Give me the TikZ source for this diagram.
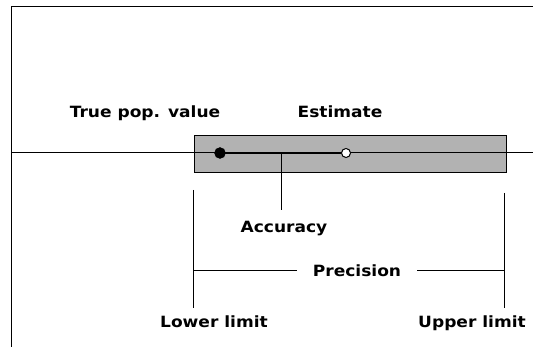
\documentclass[tikz,border=0pt]{standalone}
\usepackage{fontspec}
\setmainfont{DejaVu Sans}[FakeStretch=1.1]
\begin{document}
\begin{tikzpicture}[x=1pt,y=-1pt,
  lbl/.style={font=\bfseries\fontsize{15.5}{17}\selectfont, inner sep=0pt, anchor=base},
  thin/.style={line width=1pt, black},
  band/.style={draw=black, line width=1pt, fill=black!30},
  dotb/.style={circle, fill=black, draw=black, inner sep=0pt, minimum size=11pt},
  dotw/.style={circle, fill=white, draw=black, line width=1pt, inner sep=0pt, minimum size=9pt}]
\useasboundingbox (0,0) rectangle (533,347);
\clip (0,0) rectangle (533,347);
\fill[white] (0,0) rectangle (533,347);
% frame
\coordinate (ftr) at (540,7);
\coordinate (ftl) at (11,7);
\coordinate (fbl) at (11,350);
\draw[thin] (ftr) -- (ftl) -- (fbl);
% band
\node[band, minimum width=312pt, minimum height=37pt, inner sep=0pt, anchor=north west] (box) at (194,135.5) {};
% axis
\coordinate (axl) at (11,153);
\coordinate (axr) at (540,153);
\draw[thin] (axl) -- (axr);
% dots
\node[dotb] (tv) at (220,153) {};
\node[dotw] (est) at (346,153) {};
\draw[line width=2.8pt] (tv.center) -- (est.west);
% accuracy
\coordinate (acctop) at (281,153);
\coordinate (accbot) at (281,210);
\draw[thin] (acctop) -- (accbot);
% limits
\coordinate (lotop) at (193,190);
\coordinate (lobot) at (193,308);
\coordinate (uptop) at (504,193);
\coordinate (upbot) at (504,308);
\draw[thin] (lotop) -- (lobot);
\draw[thin] (uptop) -- (upbot);
% labels
\node[lbl] (ltv) at (145,118) {True pop. value};
\node[lbl] (lest) at (340,118) {Estimate};
\node[lbl] (lacc) at (284,233) {Accuracy};
\node[lbl] (lprec) at (357,277) {Precision};
\node[lbl] (llo) at (214,328) {Lower limit};
\node[lbl, anchor=base west] (lup) at (418,328) {Upper limit};
% precision lines
\coordinate (pl) at (193,271);
\coordinate (pr) at (504,271);
\draw[thin] (pl) -- (297,271);
\draw[thin] (417,271) -- (pr);
\end{tikzpicture}
\end{document}
